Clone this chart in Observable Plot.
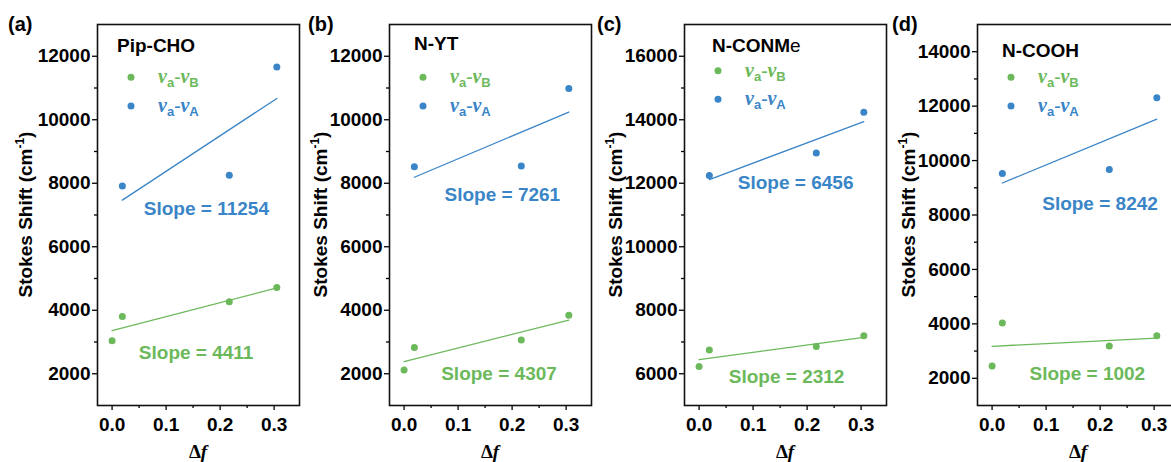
<!DOCTYPE html>
<html><head><meta charset="utf-8">
<script src="https://cdn.jsdelivr.net/npm/d3@7"></script>
<script src="https://cdn.jsdelivr.net/npm/@observablehq/plot@0.6"></script>
<style>
html,body{margin:0;padding:0;background:#fff;}
#wrap{position:relative;width:1171px;height:462px;overflow:hidden;background:#fff;}
#wrap svg{position:absolute;top:0;}
</style></head><body><div id="wrap"></div>
<script>
// ---- data ----
const deltaF = [0.0, 0.019, 0.217, 0.305];     // x for va-vB series
const deltaFA = [0.019, 0.217, 0.305];         // x for va-vA series
const panelLetters = ["(a)", "(b)", "(c)", "(d)"];
const compounds = ["Pip-CHO", "N-YT", "N-CONMe", "N-COOH"];
const shiftB_PipCHO = [3040, 3800, 4265, 4715];
const shiftA_PipCHO = [7910, 8250, 11665];
const shiftB_NYT = [2116, 2827, 3060, 3846];
const shiftA_NYT = [8519, 8541, 10984];
const shiftB_NCONMe = [6230, 6745, 6858, 7195];
const shiftA_NCONMe = [12248, 12950, 14239];
const shiftB_NCOOH = [2451, 4029, 3185, 3567];
const shiftA_NCOOH = [9523, 9670, 12305];
const slopeA = [11254, 7261, 6456, 8242];
const slopeB = [4411, 4307, 2312, 1002];
const xTicks = [0.0, 0.1, 0.2, 0.3];
const xMinorTicks = [0.05, 0.15, 0.25];
const yTicks = [
  [2000, 4000, 6000, 8000, 10000, 12000],
  [2000, 4000, 6000, 8000, 10000, 12000],
  [6000, 8000, 10000, 12000, 14000, 16000],
  [2000, 4000, 6000, 8000, 10000, 12000, 14000]
];
const yMinorTicks = [
  [3000, 5000, 7000, 9000, 11000],
  [3000, 5000, 7000, 9000, 11000],
  [7000, 9000, 11000, 13000, 15000],
  [3000, 5000, 7000, 9000, 11000, 13000]
];
const seriesB = [shiftB_PipCHO, shiftB_NYT, shiftB_NCONMe, shiftB_NCOOH];
const seriesA = [shiftA_PipCHO, shiftA_NYT, shiftA_NCONMe, shiftA_NCOOH];

// ---- layout / style ----
const green = "#6cb95b", blue = "#3a85c7";
const yDomains = [[1000, 13000], [1000, 13000], [5000, 17000], [1000, 15000]];
const svgLeft = [0, 292, 587, 880];
const frameL = 97, frameW = 202, frameT = 24, frameB = 405;
const labelPos = [ // slope label anchors (data coords): [xA, yA, xB, yB]
  [0.0587, 7195, 0.0495, 2660],
  [0.0749, 7636, 0.0687, 1998],
  [0.0717, 12002, 0.055, 5913],
  [0.0928, 8412, 0.0693, 2165]
];
const letterDx = [-89, -81, -87, -85];
const titleDx = [20, 25, 28, 25];
const titleY = [52, 50, 52, 57];
const legendY = [[77.3, 106], [77.3, 106], [70.7, 99.3], [77.3, 106]];
const yLabelDx = [-65, -62, -62, -62];
const SANS = "'Liberation Sans', Arial, sans-serif";
const SERIF = "'Liberation Serif', 'Times New Roman', serif";

const wrap = document.getElementById("wrap");

for (let i = 0; i < 4; i++) {
  const rowsB = deltaF.map((x, k) => ({x, y: seriesB[i][k]}));
  const rowsA = deltaFA.map((x, k) => ({x, y: seriesA[i][k]}));
  const lp = labelPos[i];
  const plot = Plot.plot({
    width: 300, height: 462,
    marginLeft: frameL, marginRight: 300 - frameL - frameW, marginTop: frameT, marginBottom: 462 - frameB,
    style: {fontFamily: SANS, fontSize: "19px", fontWeight: "bold", color: "#000", background: "transparent", overflow: "visible"},
    x: {domain: [-0.027, 0.347]},
    y: {domain: yDomains[i]},
    marks: [
      Plot.axisY({ticks: yMinorTicks[i], tickSize: 3, tickFormat: () => "", label: null, strokeWidth: 1.3}),
      Plot.axisY({ticks: yTicks[i], tickSize: 5, tickPadding: 2, tickFormat: d => String(d), label: null, strokeWidth: 1.3, fontSize: 19, fontWeight: "bold"}),
      Plot.axisX({ticks: xMinorTicks, tickSize: 3, tickFormat: () => "", label: null, strokeWidth: 1.3}),
      Plot.axisX({ticks: xTicks, tickSize: 5, tickPadding: 7, tickFormat: d3.format(".1f"), label: null, strokeWidth: 1.3, fontSize: 19, fontWeight: "bold"}),
      Plot.linearRegressionY(rowsB, {x: "x", y: "y", stroke: green, strokeWidth: 1.3, ci: 0}),
      Plot.linearRegressionY(rowsA, {x: "x", y: "y", stroke: blue, strokeWidth: 1.3, ci: 0}),
      Plot.dot(rowsB, {x: "x", y: "y", r: 3.5, fill: green}),
      Plot.dot(rowsA, {x: "x", y: "y", r: 3.5, fill: blue}),
      Plot.text([`Slope = ${slopeA[i]}`], {x: [lp[0]], y: [lp[1]], text: d => d, textAnchor: "start", fill: blue, fontSize: 19, fontWeight: "bold"}),
      Plot.text([`Slope = ${slopeB[i]}`], {x: [lp[2]], y: [lp[3]], text: d => d, textAnchor: "start", fill: green, fontSize: 19, fontWeight: "bold"}),
      Plot.frame({stroke: "#111", strokeWidth: 1.6})
    ]
  });
  plot.style.left = svgLeft[i] + "px";
  wrap.appendChild(plot);
  const svg = d3.select(plot);

  // panel letter
  svg.append("text").attr("x", frameL + letterDx[i]).attr("y", 31).attr("text-anchor", "start")
    .style("font-family", SANS).style("font-size", "20px").style("font-weight", "bold").attr("fill", "#000")
    .text(panelLetters[i]);

  // compound title
  const t = svg.append("text").attr("x", frameL + titleDx[i]).attr("y", titleY[i]).attr("text-anchor", "start")
    .style("font-family", SANS).style("font-size", "19px").style("font-weight", "bold").attr("fill", "#000");
  if (compounds[i] === "N-CONMe") {
    t.append("tspan").text("N-CONM");
    t.append("tspan").style("font-weight", "normal").text("e");
  } else {
    t.text(compounds[i]);
  }

  // legend
  const legend = [["B", green], ["A", blue]];
  legend.forEach(([sub, col], k) => {
    const ly = legendY[i][k];
    svg.append("circle").attr("cx", frameL + 34).attr("cy", ly).attr("r", 3.5).attr("fill", col);
    const lt = svg.append("text").attr("x", frameL + 61).attr("y", ly + 6).attr("fill", col)
      .attr("text-anchor", "start").style("font-weight", "bold");
    lt.append("tspan").style("font-family", SERIF).style("font-style", "italic").style("font-size", "20px").text("ν");
    lt.append("tspan").style("font-family", SANS).style("font-size", "13px").attr("dy", 4).text("a");
    lt.append("tspan").style("font-family", SERIF).style("font-size", "19px").attr("dy", -4).text("-");
    lt.append("tspan").style("font-family", SERIF).style("font-style", "italic").style("font-size", "20px").text("ν");
    lt.append("tspan").style("font-family", SANS).style("font-size", "13px").attr("dy", 4).text(sub);
  });

  // y-axis label
  const yl = svg.append("text")
    .attr("transform", `translate(${frameL + yLabelDx[i]},${(frameT + frameB) / 2}) rotate(-90)`)
    .attr("text-anchor", "middle").attr("fill", "#000")
    .style("font-family", SANS).style("font-size", "19px").style("font-weight", "bold");
  yl.append("tspan").text("Stokes Shift (cm");
  yl.append("tspan").style("font-size", "12px").attr("dy", -8).text("-1");
  yl.append("tspan").attr("dy", 8).text(")");

  // x-axis label
  const xl = svg.append("text").attr("x", frameL + frameW / 2).attr("y", 458)
    .attr("text-anchor", "middle").attr("fill", "#000")
    .style("font-family", SERIF).style("font-size", "19px").style("font-weight", "bold");
  xl.append("tspan").text("Δ");
  xl.append("tspan").style("font-style", "italic").text("f");
}
</script></body></html>
